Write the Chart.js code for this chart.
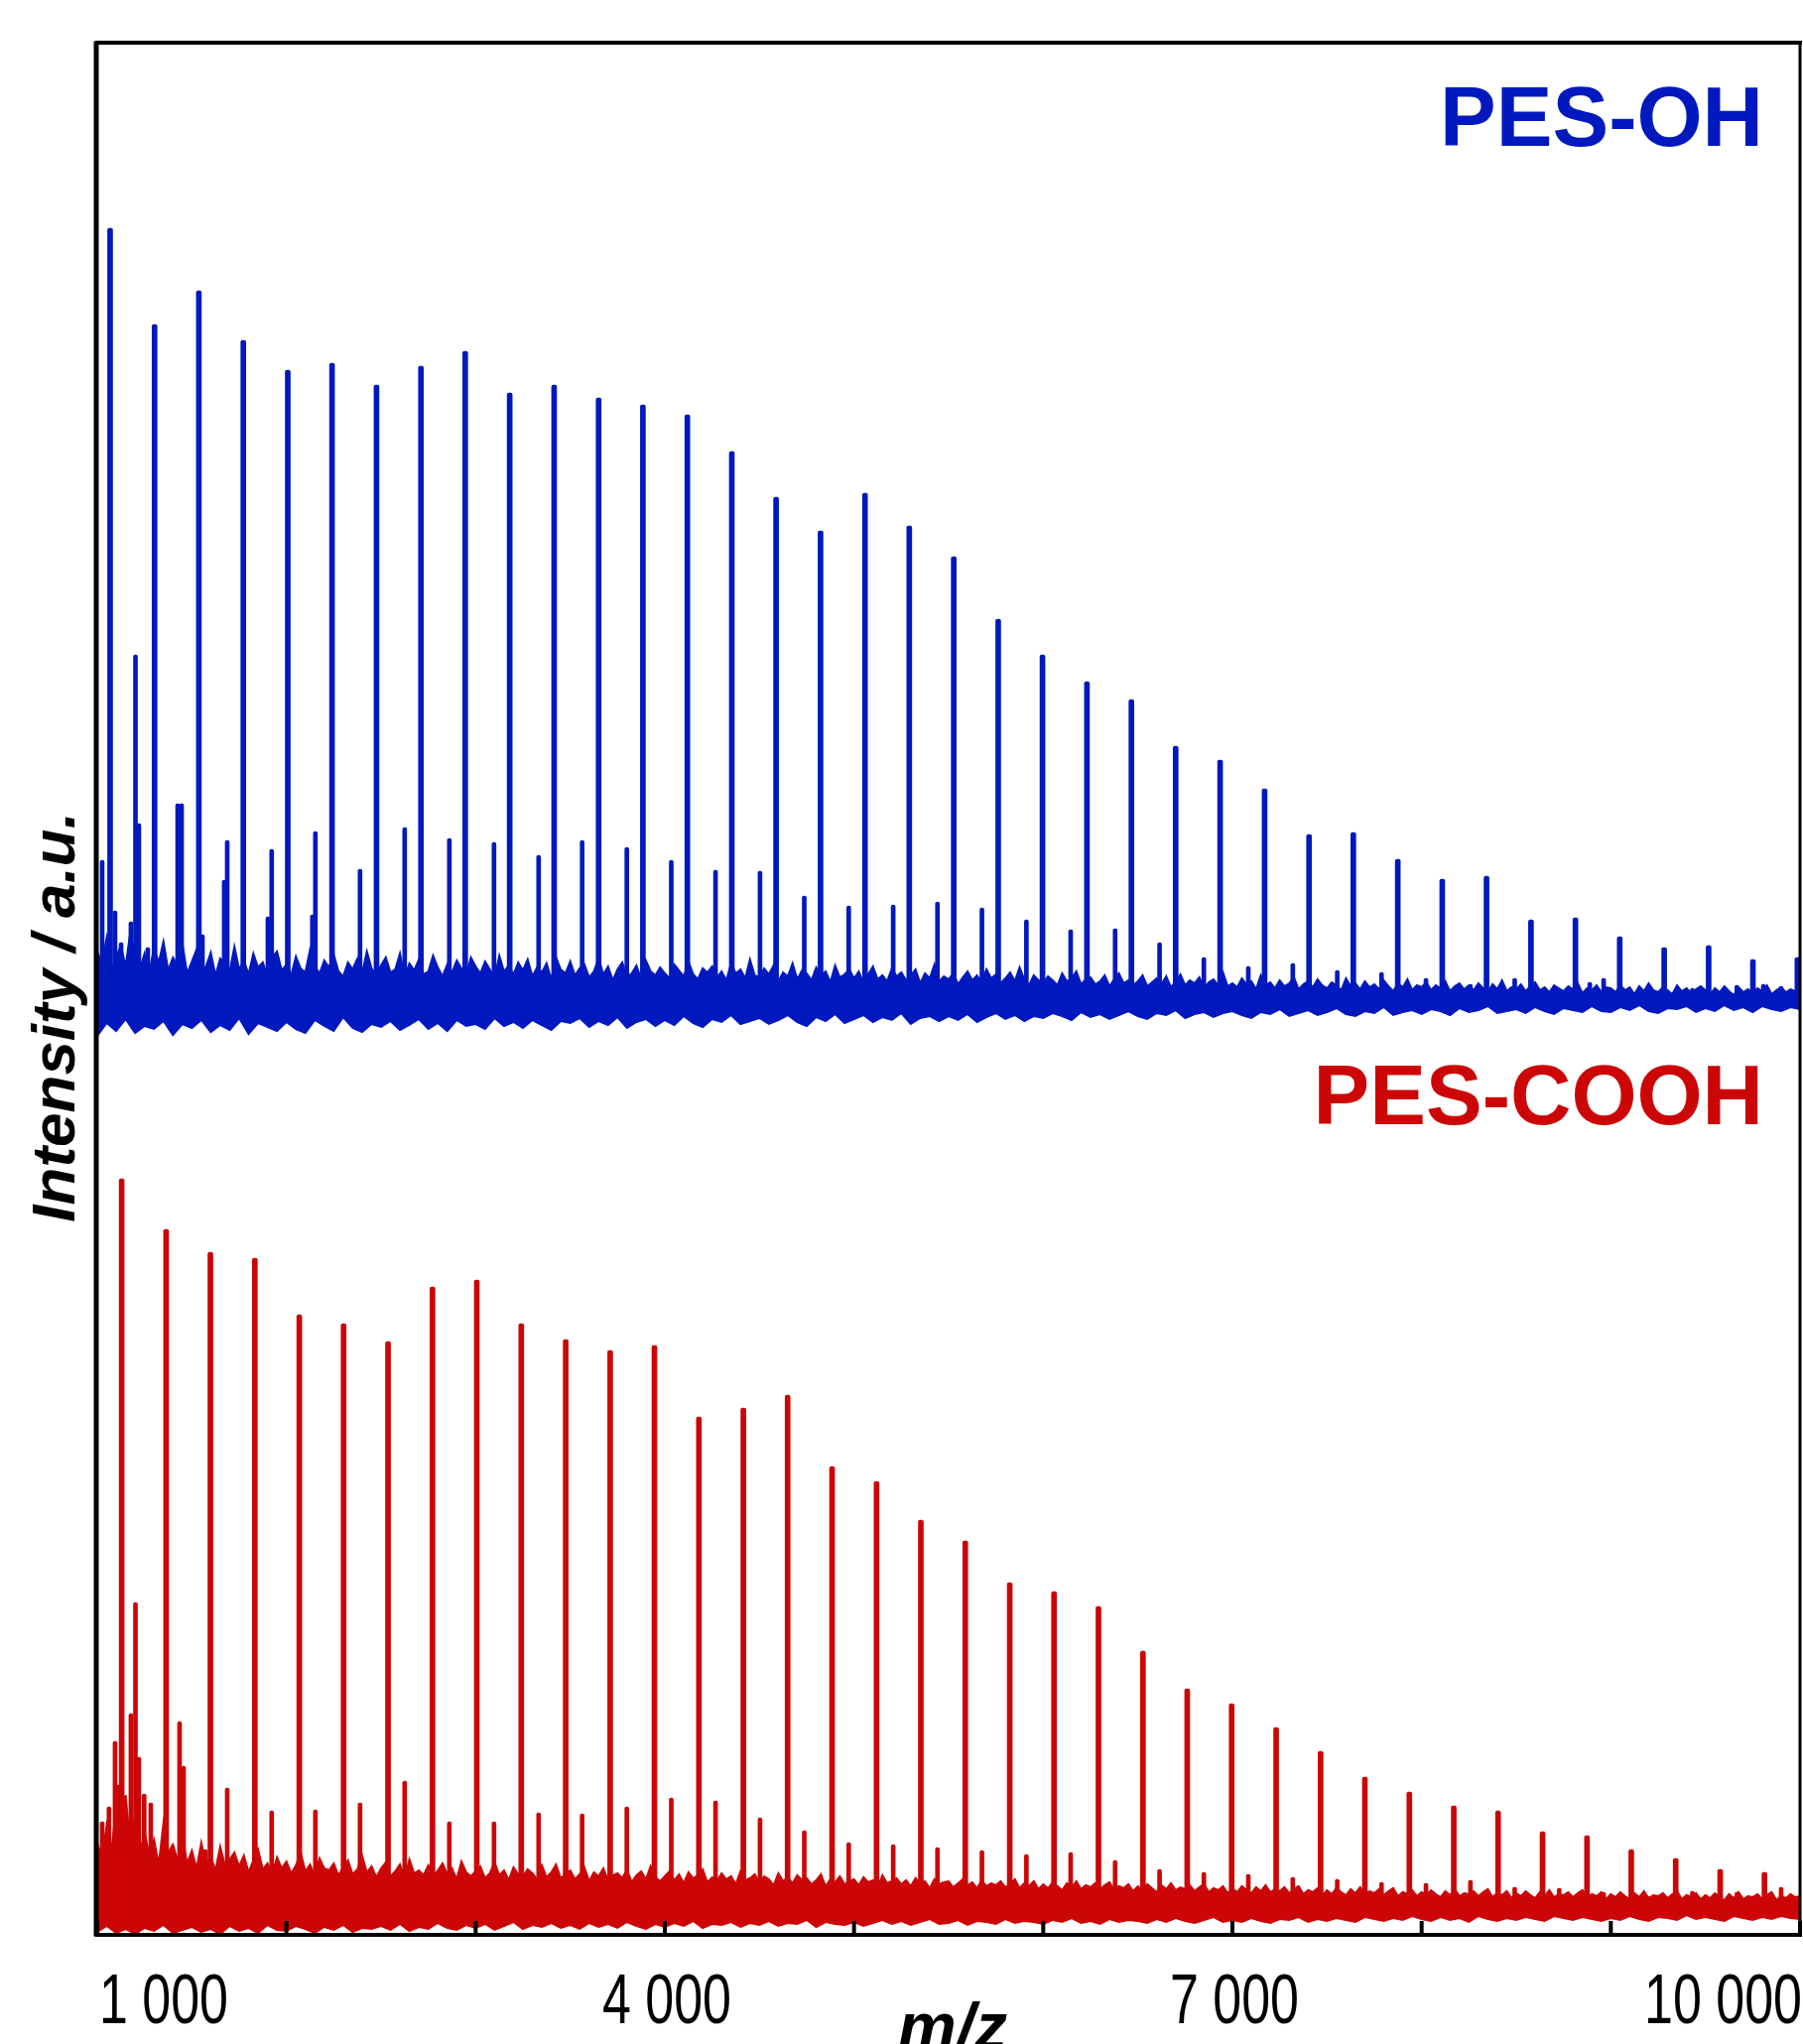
<!DOCTYPE html>
<html>
<head>
<meta charset="utf-8">
<title>PES MALDI spectra</title>
<script src="https://cdn.jsdelivr.net/npm/chart.js@4.4.1/dist/chart.umd.min.js"></script>
<style>
  html, body { margin: 0; padding: 0; background: #fff; }
  #wrap { width: 1817px; height: 2060px; }
</style>
</head>
<body>
<div id="wrap"><canvas id="ms" width="1817" height="2060"></canvas></div>
<script>
// MALDI spectra, PES-OH (blue, stacked above) and PES-COOH (red)
// intensities are in a.u. of the stacked plot

// main series of each spectrum (m/z, apex intensity)
const blueMainMz = [1068, 1303, 1537, 1772, 2007, 2241, 2476, 2711, 2945, 3180, 3415, 3650, 3884, 4119, 4354, 4588, 4823, 5058, 5292, 5527, 5762, 5996, 6231, 6466, 6700, 6935, 7170, 7405, 7639, 7874, 8109, 8343, 8578, 8813, 9047, 9282, 9517, 9751, 9986];
const blueMainInt = [1719, 1622, 1656, 1606, 1576, 1583, 1561, 1580, 1595, 1553, 1561, 1548, 1541, 1531, 1494, 1448, 1414, 1452, 1419, 1388, 1325, 1289, 1262, 1244, 1197, 1183, 1154, 1108, 1110, 1083, 1063, 1066, 1022, 1024, 1005, 994, 996, 982, 984];

const redMainMz = [1129, 1364, 1598, 1833, 2068, 2302, 2537, 2772, 3006, 3241, 3476, 3711, 3945, 4180, 4415, 4649, 4884, 5119, 5353, 5588, 5823, 6057, 6292, 6527, 6761, 6996, 7231, 7466, 7700, 7935, 8170, 8404, 8639, 8874, 9108, 9343, 9578, 9812];
const redMainInt = [761, 710, 687, 681, 624, 615, 597, 652, 659, 615, 599, 588, 593, 521, 530, 543, 471, 456, 417, 396, 354, 345, 330, 285, 247, 232, 208, 184, 158, 143, 129, 124, 103, 99, 85, 76, 65, 62];

// smaller side series
const blueMinorMz = [1026, 1094, 1126, 1178, 1202, 1220, 1267, 1351, 1425, 1446, 1556, 1671, 1687, 1902, 1922, 2137, 2153, 2389, 2625, 2861, 3097, 3333, 3563, 3799, 4034, 4268, 4503, 4737, 4972, 5207, 5441, 5676, 5911, 6145, 6380, 6615, 6849, 7084, 7319, 7554, 7788, 8023, 8258, 8492, 8727, 8889, 8962, 9196, 9431, 9666, 9806, 9900];
const blueMinorInt = [1082, 1031, 999, 1020, 1289, 1119, 994, 989, 1139, 1139, 1007, 1062, 1102, 1025, 1093, 1027, 1111, 1073, 1115, 1104, 1100, 1087, 1102, 1095, 1082, 1072, 1071, 1046, 1036, 1037, 1040, 1034, 1022, 1012, 1013, 999, 984, 975, 978, 971, 969, 963, 957, 963, 951, 959, 963, 953, 953, 956, 957, 955];

const redMinorMz = [1026, 1062, 1094, 1112, 1141, 1178, 1202, 1220, 1248, 1283, 1435, 1456, 1571, 1687, 1922, 2153, 2389, 2625, 2861, 3097, 3333, 3563, 3799, 4034, 4268, 4503, 4737, 4972, 5207, 5441, 5676, 5911, 6145, 6380, 6615, 6849, 7084, 7319, 7554, 7788, 8023, 8258, 8492, 8727, 8962, 9196, 9431, 9666, 9900];
const redMinorInt = [113, 128, 194, 150, 138, 222, 334, 178, 141, 132, 214, 169, 85, 147, 124, 125, 132, 154, 113, 113, 122, 121, 128, 137, 134, 117, 104, 92, 90, 87, 84, 80, 82, 74, 65, 62, 60, 57, 55, 52, 51, 54, 47, 46, 42, 38, 43, 42, 47];

// baseline each peak rises from
const blueBase = 940;
const redBase = 25;

// upper edge of the noise band, every 25 m/z from 1000 to 10000
const topMz = [
  1000, 1025, 1050, 1075, 1100, 1125, 1150, 1175, 1200, 1225,
  1250, 1275, 1300, 1325, 1350, 1375, 1400, 1425, 1450, 1475,
  1500, 1525, 1550, 1575, 1600, 1625, 1650, 1675, 1700, 1725,
  1750, 1775, 1800, 1825, 1850, 1875, 1900, 1925, 1950, 1975,
  2000, 2025, 2050, 2075, 2100, 2125, 2150, 2175, 2200, 2225,
  2250, 2275, 2300, 2325, 2350, 2375, 2400, 2425, 2450, 2475,
  2500, 2525, 2550, 2575, 2600, 2625, 2650, 2675, 2700, 2725,
  2750, 2775, 2800, 2825, 2850, 2875, 2900, 2925, 2950, 2975,
  3000, 3025, 3050, 3075, 3100, 3125, 3150, 3175, 3200, 3225,
  3250, 3275, 3300, 3325, 3350, 3375, 3400, 3425, 3450, 3475,
  3500, 3525, 3550, 3575, 3600, 3625, 3650, 3675, 3700, 3725,
  3750, 3775, 3800, 3825, 3850, 3875, 3900, 3925, 3950, 3975,
  4000, 4025, 4050, 4075, 4100, 4125, 4150, 4175, 4200, 4225,
  4250, 4275, 4300, 4325, 4350, 4375, 4400, 4425, 4450, 4475,
  4500, 4525, 4550, 4575, 4600, 4625, 4650, 4675, 4700, 4725,
  4750, 4775, 4800, 4825, 4850, 4875, 4900, 4925, 4950, 4975,
  5000, 5025, 5050, 5075, 5100, 5125, 5150, 5175, 5200, 5225,
  5250, 5275, 5300, 5325, 5350, 5375, 5400, 5425, 5450, 5475,
  5500, 5525, 5550, 5575, 5600, 5625, 5650, 5675, 5700, 5725,
  5750, 5775, 5800, 5825, 5850, 5875, 5900, 5925, 5950, 5975,
  6000, 6025, 6050, 6075, 6100, 6125, 6150, 6175, 6200, 6225,
  6250, 6275, 6300, 6325, 6350, 6375, 6400, 6425, 6450, 6475,
  6500, 6525, 6550, 6575, 6600, 6625, 6650, 6675, 6700, 6725,
  6750, 6775, 6800, 6825, 6850, 6875, 6900, 6925, 6950, 6975,
  7000, 7025, 7050, 7075, 7100, 7125, 7150, 7175, 7200, 7225,
  7250, 7275, 7300, 7325, 7350, 7375, 7400, 7425, 7450, 7475,
  7500, 7525, 7550, 7575, 7600, 7625, 7650, 7675, 7700, 7725,
  7750, 7775, 7800, 7825, 7850, 7875, 7900, 7925, 7950, 7975,
  8000, 8025, 8050, 8075, 8100, 8125, 8150, 8175, 8200, 8225,
  8250, 8275, 8300, 8325, 8350, 8375, 8400, 8425, 8450, 8475,
  8500, 8525, 8550, 8575, 8600, 8625, 8650, 8675, 8700, 8725,
  8750, 8775, 8800, 8825, 8850, 8875, 8900, 8925, 8950, 8975,
  9000, 9025, 9050, 9075, 9100, 9125, 9150, 9175, 9200, 9225,
  9250, 9275, 9300, 9325, 9350, 9375, 9400, 9425, 9450, 9475,
  9500, 9525, 9550, 9575, 9600, 9625, 9650, 9675, 9700, 9725,
  9750, 9775, 9800, 9825, 9850, 9875, 9900, 9925, 9950, 9975,
  10000
];
const blueNoiseTop = [
  990, 978, 1004, 970, 985, 996, 975, 1010, 982, 972,
  988, 969, 994, 979, 1000, 971, 984, 976, 998, 968,
  980, 992, 970, 975, 989, 966, 983, 978, 970, 995,
  972, 981, 967, 988, 974, 979, 965, 984, 990, 971,
  977, 966, 985, 973, 969, 992, 975, 968, 981, 974,
  987, 970, 965, 979, 972, 983, 968, 990, 973, 966,
  976, 984, 969, 972, 988, 964, 978, 971, 982, 967,
  970, 986, 974, 965, 977, 969, 981, 973, 966, 984,
  975, 968, 980, 972, 963, 986, 970, 976, 967, 979,
  971, 982, 965, 974, 969, 978, 962, 984, 972, 968,
  980, 966, 973, 977, 964, 970, 983, 967, 975, 961,
  972, 979, 965, 968, 976, 962, 981, 970, 966, 974,
  968, 963, 977, 971, 965, 980, 967, 962, 973, 969,
  975, 964, 970, 961, 978, 968, 972, 963, 982, 966,
  964, 973, 967, 976, 960, 969, 965, 978, 962, 971,
  968, 961, 974, 966, 970, 959, 976, 964, 967, 972,
  963, 970, 958, 967, 975, 962, 966, 960, 973, 965,
  969, 961, 966, 972, 958, 968, 963, 977, 960, 965,
  962, 968, 957, 964, 970, 961, 966, 959, 972, 963,
  967, 958, 963, 969, 960, 974, 962, 956, 966, 961,
  958, 965, 961, 956, 968, 960, 963, 970, 957, 962,
  964, 957, 960, 966, 955, 962, 968, 958, 961, 956,
  960, 966, 955, 959, 963, 957, 965, 954, 960, 967,
  956, 961, 958, 964, 953, 959, 962, 956, 969, 955,
  958, 954, 963, 957, 960, 952, 966, 956, 959, 953,
  961, 955, 958, 964, 952, 957, 960, 954, 962, 956,
  953, 959, 956, 951, 963, 955, 958, 952, 960, 954,
  957, 952, 961, 955, 950, 958, 954, 962, 951, 956,
  954, 959, 951, 956, 953, 960, 950, 955, 958, 952,
  956, 951, 958, 953, 949, 957, 952, 961, 950, 954,
  952, 957, 950, 955, 959, 951, 954, 949, 956, 953,
  950, 955, 952, 958, 948, 953, 951, 956, 949, 954,
  953, 949, 956, 951, 954, 947, 955, 950, 958, 951,
  949, 954, 951, 947, 956, 950, 953, 948, 952, 955,
  951, 947, 953, 949, 955, 950, 946, 954, 949, 952,
  948, 953, 950, 956, 947, 951, 954, 949, 952, 950,
  951
];
const redNoiseTop = [
  92, 75, 110, 84, 128, 96, 140, 88, 118, 80,
  104, 78, 95, 70, 112, 82, 90, 74, 99, 71,
  84, 66, 92, 70, 78, 64, 88, 69, 75, 82,
  68, 79, 62, 74, 85, 65, 71, 60, 77, 66,
  73, 61, 69, 82, 63, 70, 58, 76, 66, 64,
  71, 59, 67, 74, 60, 65, 79, 62, 68, 57,
  66, 72, 58, 63, 70, 56, 75, 61, 64, 59,
  69, 57, 64, 71, 60, 66, 55, 73, 62, 58,
  63, 68, 56, 61, 72, 59, 64, 54, 67, 60,
  58, 65, 61, 55, 69, 57, 62, 70, 56, 60,
  64, 55, 60, 67, 53, 62, 58, 66, 54, 59,
  61, 56, 65, 52, 59, 63, 55, 68, 57, 53,
  58, 63, 54, 60, 51, 62, 56, 59, 65, 52,
  57, 53, 61, 55, 58, 50, 63, 54, 56, 60,
  52, 58, 55, 49, 61, 53, 57, 51, 59, 54,
  56, 50, 54, 60, 48, 55, 52, 58, 50, 53,
  55, 49, 57, 52, 54, 47, 59, 51, 53, 56,
  50, 54, 48, 56, 51, 53, 46, 55, 50, 52,
  53, 47, 51, 55, 49, 52, 46, 54, 48, 51,
  49, 53, 47, 50, 55, 46, 51, 48, 53, 45,
  50, 46, 52, 48, 44, 51, 47, 53, 45, 49,
  47, 51, 45, 49, 52, 44, 48, 46, 50, 43,
  48, 44, 50, 46, 42, 49, 45, 51, 44, 47,
  45, 49, 43, 47, 50, 42, 46, 44, 48, 41,
  46, 42, 48, 44, 41, 47, 43, 49, 42, 45,
  43, 47, 41, 45, 48, 40, 44, 42, 46, 39,
  44, 40, 46, 42, 39, 45, 41, 47, 40, 43,
  41, 45, 39, 43, 46, 38, 42, 40, 44, 38,
  42, 39, 44, 40, 37, 43, 39, 45, 38, 41,
  40, 43, 38, 42, 45, 37, 41, 39, 43, 36,
  41, 38, 43, 39, 36, 42, 38, 44, 37, 40,
  39, 42, 37, 41, 44, 36, 40, 38, 42, 35,
  40, 37, 42, 38, 35, 41, 37, 43, 36, 39,
  38, 41, 36, 40, 43, 35, 39, 37, 41, 35,
  39, 36, 41, 37, 34, 40, 36, 42, 35, 38,
  37, 40, 35, 39, 42, 34, 38, 36, 40, 37,
  38
];

// lower edge of the noise band, every 50 m/z
const bottomMz = [
  1000, 1050, 1100, 1150, 1200, 1250, 1300, 1350, 1400, 1450,
  1500, 1550, 1600, 1650, 1700, 1750, 1800, 1850, 1900, 1950,
  2000, 2050, 2100, 2150, 2200, 2250, 2300, 2350, 2400, 2450,
  2500, 2550, 2600, 2650, 2700, 2750, 2800, 2850, 2900, 2950,
  3000, 3050, 3100, 3150, 3200, 3250, 3300, 3350, 3400, 3450,
  3500, 3550, 3600, 3650, 3700, 3750, 3800, 3850, 3900, 3950,
  4000, 4050, 4100, 4150, 4200, 4250, 4300, 4350, 4400, 4450,
  4500, 4550, 4600, 4650, 4700, 4750, 4800, 4850, 4900, 4950,
  5000, 5050, 5100, 5150, 5200, 5250, 5300, 5350, 5400, 5450,
  5500, 5550, 5600, 5650, 5700, 5750, 5800, 5850, 5900, 5950,
  6000, 6050, 6100, 6150, 6200, 6250, 6300, 6350, 6400, 6450,
  6500, 6550, 6600, 6650, 6700, 6750, 6800, 6850, 6900, 6950,
  7000, 7050, 7100, 7150, 7200, 7250, 7300, 7350, 7400, 7450,
  7500, 7550, 7600, 7650, 7700, 7750, 7800, 7850, 7900, 7950,
  8000, 8050, 8100, 8150, 8200, 8250, 8300, 8350, 8400, 8450,
  8500, 8550, 8600, 8650, 8700, 8750, 8800, 8850, 8900, 8950,
  9000, 9050, 9100, 9150, 9200, 9250, 9300, 9350, 9400, 9450,
  9500, 9550, 9600, 9650, 9700, 9750, 9800, 9850, 9900, 9950,
  10000
];
const blueNoiseBottom = [
  905, 918, 910, 922, 908, 915, 912, 920, 906, 917,
  913, 921, 909, 916, 911, 923, 907, 918, 914, 910,
  919, 912, 908, 921, 915, 910, 924, 913, 909, 917,
  914, 920, 911, 916, 922, 912, 918, 910, 921, 915,
  917, 912, 923, 915, 919, 913, 921, 916, 911, 920,
  918, 923, 914, 920, 916, 924, 913, 919, 922, 915,
  921, 916, 925, 918, 914, 922, 919, 926, 917, 920,
  923, 917, 921, 926, 919, 915, 924, 920, 927, 918,
  922, 926, 919, 924, 921, 928, 917, 923, 925, 920,
  925, 921, 927, 919, 924, 928, 922, 926, 920, 925,
  923, 928, 925, 921, 929, 924, 927, 922, 926, 930,
  925, 922, 928, 926, 931, 923, 927, 929, 924, 928,
  930, 926, 923, 929, 927, 932, 925, 928, 931, 926,
  929, 933, 927, 925, 930, 928, 934, 926, 929, 931,
  927, 932, 930, 926, 933, 929, 931, 935, 928, 930,
  932, 928, 934, 930, 927, 933, 931, 929, 935, 930,
  929, 934, 931, 936, 930, 928, 933, 932, 935, 929,
  933, 930, 936, 931, 934, 929, 935, 932, 930, 934,
  932
];
const redNoiseBottom = [
  2, 8, 1, 5, 0, 6, 3, 9, 1, 4,
  7, 2, 5, 0, 8, 3, 6, 1, 9, 4,
  3, 8, 5, 1, 7, 4, 9, 2, 6, 5,
  8, 4, 10, 3, 7, 5, 11, 6, 4, 9,
  6, 10, 4, 8, 12, 5, 9, 7, 11, 6,
  9, 5, 11, 7, 10, 6, 12, 8, 5, 10,
  7, 11, 8, 13, 6, 10, 9, 12, 7, 11,
  9, 13, 8, 11, 10, 14, 7, 12, 10, 9,
  12, 8, 11, 14, 10, 13, 9, 12, 15, 10,
  11, 14, 9, 13, 12, 10, 15, 11, 13, 12,
  10, 14, 12, 16, 11, 13, 10, 15, 12, 14,
  13, 11, 15, 12, 16, 13, 11, 14, 17, 12,
  14, 12, 16, 13, 11, 15, 14, 17, 12, 15,
  13, 16, 14, 12, 17, 15, 13, 16, 14, 18,
  15, 13, 17, 14, 16, 12, 18, 15, 13, 16,
  14, 17, 15, 13, 18, 16, 14, 17, 15, 13,
  16, 14, 18, 15, 13, 17, 16, 14, 19, 15,
  17, 15, 13, 18, 16, 14, 17, 15, 18, 16,
  15
];

// axis
const xTicks = [1000, 2000, 3000, 4000, 5000, 6000, 7000, 8000, 9000, 10000];
const xLabelValues = [1000, 4000, 7000, 10000];
const xLabels = ['1 000', '4 000', '7 000', '10 000'];

const BLUE = '#0019BE';
const RED = '#CC0606';

function edgeLine(mz, values, base, color) {
  return {
    type: 'line',
    data: mz.map((m, i) => ({ x: m, y: values[i] })),
    borderColor: color, backgroundColor: color,
    borderWidth: 2, pointRadius: 0, tension: 0,
    fill: { value: base }
  };
}
function peakBars(mz, inten, base, color, w) {
  return {
    type: 'bar',
    data: mz.map((m, i) => ({ x: m, y: [base, inten[i]] })),
    backgroundColor: color,
    borderWidth: 0, barThickness: w, grouped: false, borderRadius: 2, borderSkipped: false
  };
}

// frame, inward ticks and all the text
const decorations = {
  id: 'decorations',
  afterDraw(chart) {
    const { ctx, chartArea: a, scales: { x } } = chart;
    ctx.save();
    ctx.strokeStyle = '#000';
    ctx.lineCap = 'square';
    const edge = (x1, y1, x2, y2, w) => {
      ctx.lineWidth = w; ctx.beginPath(); ctx.moveTo(x1, y1); ctx.lineTo(x2, y2); ctx.stroke();
    };
    edge(a.left - 1, a.top, a.left - 1, a.bottom, 5);
    edge(a.left, a.top - 1, a.right, a.top - 1, 4);
    edge(a.right, a.top, a.right, a.bottom, 3);
    edge(a.left, a.bottom + 1, a.right, a.bottom + 1, 4);
    ctx.lineCap = 'butt';
    xTicks.forEach(v => {
      const px = x.getPixelForValue(v);
      edge(px, a.bottom, px, a.bottom - 13, 4);
    });

    // tick labels in a narrow face: squeeze whatever font is found to the
    // width the figure shows for "4 000"
    ctx.fillStyle = '#000';
    ctx.font = '70px "Liberation Sans Narrow", "Arial Narrow", "Liberation Sans", Arial, sans-serif';
    ctx.textBaseline = 'alphabetic';
    const sx = Math.min(1, 130 / ctx.measureText('4 000').width);
    xLabelValues.forEach((v, i) => {
      const px = x.getPixelForValue(v);
      const last = i === xLabels.length - 1;
      ctx.save();
      ctx.translate(px + 2, 2039);
      ctx.scale(sx, 1);
      ctx.textAlign = i === 0 ? 'left' : (last ? 'right' : 'center');
      ctx.fillText(xLabels[i], 0, 0);
      ctx.restore();
    });

    // axis titles
    ctx.font = 'italic bold 66px "Liberation Sans", Arial, sans-serif';
    ctx.textAlign = 'center';
    ctx.fillText('m/z', 960, 2065);

    ctx.save();
    ctx.translate(75, 1025);
    ctx.rotate(-Math.PI / 2);
    ctx.font = 'italic bold 62px "Liberation Sans", Arial, sans-serif';
    ctx.fillText('Intensity / a.u.', 0, 0);
    ctx.restore();

    // spectrum names
    ctx.font = 'bold 85px "Liberation Sans", Arial, sans-serif';
    ctx.textAlign = 'right';
    ctx.fillStyle = BLUE;
    ctx.fillText('PES-OH', 1777, 147);
    ctx.fillStyle = RED;
    ctx.fillText('PES-COOH', 1777, 1133);
    ctx.restore();
  }
};

new Chart(document.getElementById('ms'), {
  type: 'bar',
  data: {
    datasets: [
      edgeLine(topMz, blueNoiseTop, blueBase, BLUE),
      edgeLine(bottomMz, blueNoiseBottom, blueBase, BLUE),
      peakBars(blueMainMz, blueMainInt, blueBase, BLUE, 5),
      peakBars(blueMinorMz, blueMinorInt, blueBase, BLUE, 4),
      edgeLine(topMz, redNoiseTop, redBase, RED),
      edgeLine(bottomMz, redNoiseBottom, redBase, RED),
      peakBars(redMainMz, redMainInt, redBase, RED, 5),
      peakBars(redMinorMz, redMinorInt, redBase, RED, 4)
    ]
  },
  options: {
    responsive: false,
    animation: false,
    devicePixelRatio: 1,
    layout: { padding: { left: 98, top: 44, right: 3, bottom: 111 } },
    plugins: { legend: { display: false }, tooltip: { enabled: false } },
    scales: {
      x: { type: 'linear', min: 1000, max: 10000, offset: false, display: false },
      y: { min: 0, max: 1905, display: false }
    }
  },
  plugins: [decorations]
});
</script>
</body>
</html>
